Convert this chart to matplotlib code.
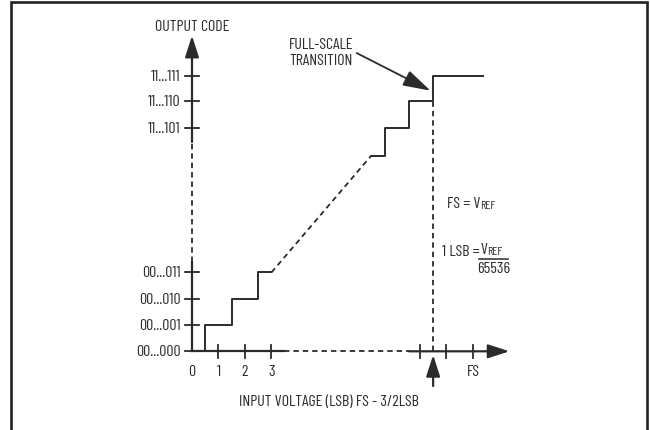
import matplotlib
matplotlib.use("Agg")
import matplotlib.pyplot as plt

plt.rcParams['font.family'] = ['Barlow Condensed', 'DejaVu Sans']

ink = '#2b2b2b'
fs = 11.5

# staircase, x in LSB (display position), y in output code (display position)
low_edges = [0, 0.5, 1.5, 2.5, 3.0]
low_codes = [0, 1, 2, 3, 3]
high_edges = [6.74, 7.27, 8.18, 9.1, 11.0]
high_codes = [7.41, 8.5, 9.53, 10.48, 10.48]

y_tick_pos = [0, 1, 2, 3, 8.5, 9.53, 10.48]
y_tick_labels = ["00...000", "00...001", "00...010", "00...011",
                 "11...101", "11...110", "11...111"]
x_tick_pos = [1, 2, 3, 8.6, 9.6, 10.6]
x_label_pos = [0, 1, 2, 3, 10.6]
x_labels = ["0", "1", "2", "3", "FS"]
transition = 9.1

fig = plt.figure(figsize=(6.5, 4.31), dpi=100)
ax = fig.add_axes([0, 0, 1, 1])
ax.set_xlim(-192 / 26.5, (650 - 192) / 26.5)
ax.set_ylim(-78.7 / 26.3, 352.3 / 26.3)
ax.axis('off')

# frame (open at the bottom)
fr_l, fr_r, fr_t = 11 / 650, 647 / 650, 1 - 3 / 431
fig.add_artist(plt.Line2D([fr_l, fr_l, fr_r, fr_r], [0, fr_t, fr_t, 0],
                          transform=fig.transFigure, color='#222222', lw=1.9,
                          solid_joinstyle='miter'))

dash = (0, (3.0, 2.2))
axlw = 1.6
head = '-|>,head_length=1.3,head_width=0.42'

# y axis
ax.plot([0, 0], [0, 3.4], color=ink, lw=axlw)
ax.plot([0, 0], [3.4, 7.96], color=ink, lw=1.3, ls=dash)
ax.annotate('', xy=(0, 12.0), xytext=(0, 7.96),
            arrowprops=dict(arrowstyle=head, mutation_scale=10, lw=axlw,
                            color=ink, shrinkA=0, shrinkB=0))
# x axis
ax.plot([0, 3.47], [0, 0], color=ink, lw=axlw)
ax.plot([3.47, 8.19], [0, 0], color=ink, lw=1.3, ls=dash)
ax.annotate('', xy=(11.98, 0), xytext=(8.19, 0),
            arrowprops=dict(arrowstyle=head, mutation_scale=10, lw=axlw,
                            color=ink, shrinkA=0, shrinkB=0))

# ticks
for yt, lab in zip(y_tick_pos, y_tick_labels):
    ax.plot([-0.25, 0.25], [yt, yt], color=ink, lw=1.3)
    ax.text(-0.43, yt, lab, ha='right', va='center', fontsize=fs, color=ink)
for xt in x_tick_pos:
    ax.plot([xt, xt], [-0.24, 0.24], color=ink, lw=1.3)
for xl, lab in zip(x_label_pos, x_labels):
    ax.text(xl, -0.75, lab, ha='center', va='center', fontsize=fs, color=ink)

# transfer function
ax.step(low_edges, low_codes, where='post', color=ink, lw=1.4)
ax.step(high_edges, high_codes, where='post', color=ink, lw=1.4)
ax.plot([low_edges[-1], high_edges[0]], [low_codes[-1], high_codes[0]],
        color=ink, lw=1.3, ls=dash)
ax.plot([transition, transition], [0, high_codes[2]], color=ink, lw=1.3, ls=dash)

# arrow under the transition point
ax.annotate('', xy=(transition, -0.14), xytext=(transition, -1.32),
            arrowprops=dict(arrowstyle=head, mutation_scale=10, lw=1.6,
                            color=ink, shrinkA=0, shrinkB=0))

# full-scale transition callout
ax.annotate('', xy=(9.0, 9.91), xytext=(6.215, 11.34),
            arrowprops=dict(arrowstyle='-|>,head_length=1.7,head_width=0.5',
                            mutation_scale=10, lw=1.3, color=ink,
                            shrinkA=0, shrinkB=0))
ax.text(4.89, 11.38, "FULL-SCALE\nTRANSITION", ha='center', va='center',
        fontsize=fs, color=ink, linespacing=1.25)

ax.text(0, 12.37, "OUTPUT CODE", ha='center', va='center', fontsize=fs, color=ink)
ax.text(5.17, -1.89, "INPUT VOLTAGE (LSB) FS - 3/2LSB", ha='center', va='center',
        fontsize=fs, color=ink)

t1 = ax.text(9.62, 5.64, "FS = V", ha='left', va='center', fontsize=fs, color=ink)
ax.annotate("REF", xy=(1, 0.12), xycoords=t1, ha='left', va='baseline',
            fontsize=8.5, color=ink)
ax.text(9.43, 3.81, "1 LSB =", ha='left', va='center', fontsize=fs, color=ink)
t2 = ax.text(10.88, 3.89, "V", ha='left', va='center', fontsize=fs, color=ink)
ax.annotate("REF", xy=(1, 0.12), xycoords=t2, ha='left', va='baseline',
            fontsize=8.5, color=ink)
ax.plot([10.83, 11.92], [3.51, 3.51], color=ink, lw=1.1)
ax.text(11.38, 3.17, "65536", ha='center', va='center', fontsize=fs, color=ink)

fig.savefig("out.png", dpi=100)
